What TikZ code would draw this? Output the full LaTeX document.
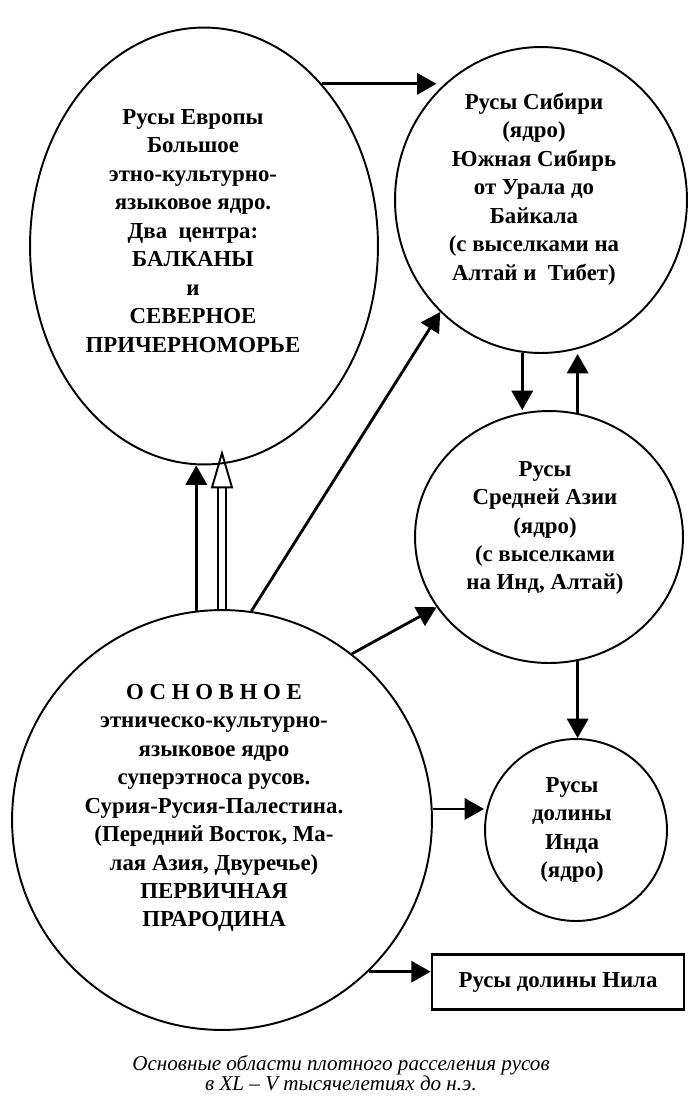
\documentclass[tikz,border=0pt]{standalone}
\usepackage{fontspec}
\setmainfont{Liberation Serif}
\usetikzlibrary{shapes.geometric, arrows.meta}

\tikzset{
    area/.style    = {draw, ellipse, line width=1.1pt, inner sep=0pt},
    areatext/.style = {align=center, font=\fontsize{13}{16.2}\selectfont\bfseries},
    link/.style    = {line width=1.6pt, -{Triangle[length=11pt, width=12pt]}},
    hollow/.style  = {line width=1.1pt, double, double distance=3.6pt,
                      -{Triangle[open, length=22pt, width=12.5pt]}}
}

\begin{document}
\begin{tikzpicture}[x=0.02cm, y=-0.02cm]
    \useasboundingbox (0,0) rectangle (696,1113);

    % The regions
    \node[area, minimum width=6.96cm, minimum height=8.74cm] (eur)   at (204,246) {};  % Europe
    \node[area, minimum width=5.84cm, minimum height=6.12cm] (sib)   at (541,200) {};  % Siberia
    \node[area, minimum width=5.36cm, minimum height=5.04cm] (asia)  at (549,537) {};  % Middle Asia
    \node[area, minimum width=3.64cm, minimum height=3.64cm] (indus) at (576,830) {};  % Indus valley
    \node[area, minimum width=8.40cm, minimum height=8.40cm] (main)  at (222,820) {};  % the home land
    \node[draw, line width=1.6pt, minimum width=5.04cm, minimum height=1.10cm,
          areatext] (nile) at (558,982) {Русы долины Нила};

    % Texts of the regions
    \node[areatext] (eurtext) at (193,231) {Русы Европы\\ Большое\\ этно-культурно-\\
        языковое ядро.\\ Два\ \ центра:\\ БАЛКАНЫ\\ и\\ СЕВЕРНОЕ\\ ПРИЧЕРНОМОРЬЕ};
    \node[areatext] (sibtext) at (534,189) {Русы Сибири\\ (ядро)\\ Южная Сибирь\\
        от Урала до\\ Байкала\\ (с выселками на\\ Алтай и\ \ Тибет)};
    \node[areatext] (asiatext) at (545,528) {Русы\\ Средней Азии\\ (ядро)\\
        (с выселками\\ на Инд, Алтай)};
    \node[areatext] (industext) at (572,830) {Русы\\ долины\\ Инда\\ (ядро)};
    \node[areatext] (maintext) at (214,808) {О С Н О В Н О Е\\ этническо-культурно-\\
        языковое ядро\\ суперэтноса русов.\\ Сурия-Русия-Палестина.\\
        (Передний Восток, Ма-\\ лая Азия, Двуречье)\\ ПЕРВИЧНАЯ\\ ПРАРОДИНА};

    % Arrows between the regions
    \draw[link] (eur.54) -- (eur.54 -| sib.134);          % Europe to Siberia
    \draw[link] (main.97) -- (main.97 |- eur.south);      % home land to Europe
    \draw[hollow, shorten >=-9pt] (main.north) -- (main.north |- eur.south);
    \draw[link] (main.82) -- (sib.228);                   % home land to Siberia
    \draw[link] (main.52) -- (asia.212);                  % home land to Middle Asia
    \draw[link] (sib.263) -- (sib.263 |- asia.north);     % Siberia to Middle Asia
    \draw[link] (asia.77) -- (asia.77 |- sib.south);      % Middle Asia to Siberia
    \draw[link] (asia.283) -- (asia.283 |- indus.north);  % Middle Asia to Indus
    \draw[link] (main.3) -- (main.3 -| indus.west);       % home land to Indus
    \draw[link] (main.314) -- (main.314 -| nile.west);    % home land to Nile

    % Caption
    \node[align=center, font=\fontsize{12}{11.4}\selectfont\itshape] (caption) at (341,1073)
        {Основные области плотного расселения русов\\ в XL -- V тысячелетиях до н.э.};
\end{tikzpicture}
\end{document}
